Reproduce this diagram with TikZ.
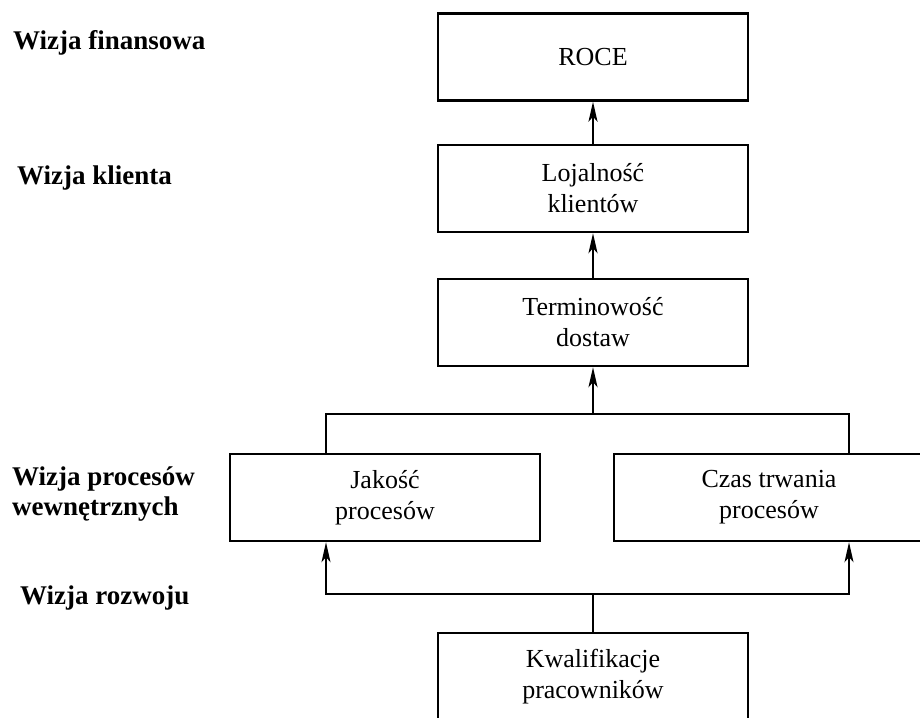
\documentclass[tikz,border=0pt]{standalone}
\usepackage{fontspec}
\setmainfont{Liberation Serif}
\usetikzlibrary{arrows.meta}
\begin{document}
\begin{tikzpicture}[x=1pt,y=-1pt,
  box/.style={draw, line width=2.4pt, minimum width=310pt, minimum height=87pt, align=center, font=\fontsize{26}{31}\selectfont, inner sep=0pt},
  lab/.style={anchor=west, align=left, inner sep=0pt, font=\fontsize{27}{30}\selectfont\bfseries},
  conn/.style={line width=2.2pt},
  thin/.style={line width=1.6pt},
  tip/.style={-{Stealth[length=20pt,width=9pt,inset=5pt]}},
  arr/.style={conn, tip},
  tharr/.style={thin, tip}]
\useasboundingbox (0,0) rectangle (920,717);
\node[box] (roce) at (593,57) {ROCE};
\node[box] (loj) at (593,188.5) {Lojalność\\klientów};
\node[box] (term) at (593,322.5) {Terminowość\\dostaw};
\node[box] (jak) at (385,497.5) {Jakość\\procesów};
\node[box] (czas) at (769,497.5) {Czas trwania\\procesów};
\node[box] (kw) at (593,676.5) {Kwalifikacje\\pracowników};
\node[lab] (l1) at (13,43) {Wizja finansowa};
\node[lab] (l2) at (17,178) {Wizja klienta};
\node[lab] (l3) at (12,494) {Wizja procesów\\wewnętrznych};
\node[lab] (l4) at (20,598) {Wizja rozwoju};
\coordinate (b1) at (326,414);
\coordinate (b2) at (849,414);
\coordinate (bc) at (593,414);
\coordinate (c1) at (326,594);
\coordinate (c2) at (849,594);
\coordinate (cc) at (593,594);
\draw[arr] (loj.north) -- (roce.south);
\draw[arr] (term.north) -- (loj.south);
\draw[conn] (jak.north -| b1) -- (b1) -- (b2) -- (czas.north -| b2);
\draw[arr] (bc) -- (term.south);
\draw[thin] (kw.north) -- (cc);
\draw[tharr] (cc) -- (c1) -- (jak.south -| c1);
\draw[tharr] (cc) -- (c2) -- (czas.south -| c2);
\end{tikzpicture}
\end{document}
